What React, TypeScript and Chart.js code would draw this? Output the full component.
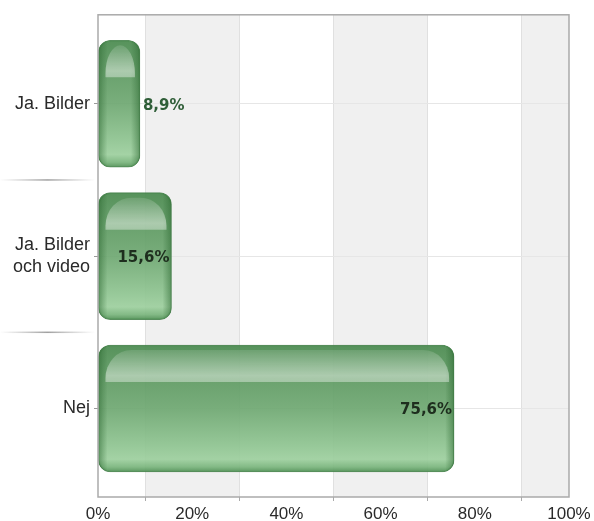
import React, { useEffect, useRef } from 'react';
import { Chart, registerables } from 'chart.js';

Chart.register(...registerables);

const categories: string[][] = [['Ja. Bilder'], ['Ja. Bilder', 'och video'], ['Nej']];
const values: number[] = [8.9, 15.6, 75.6];
const valueLabels: string[] = ['8,9%', '15,6%', '75,6%'];
const xTickValues: number[] = [0, 20, 40, 60, 80, 100];
const shadedBands: number[][] = [[10, 30], [50, 70], [90, 100]];
const gridValues: number[] = [10, 30, 50, 70, 90];

function barBox(el: any) {
  const p = el.getProps(['x', 'y', 'base', 'height'], true);
  const l = Math.min(p.x, p.base);
  const r = Math.max(p.x, p.base);
  const t = p.y - p.height / 2;
  const b = p.y + p.height / 2;
  return { l, r, t, b, cy: p.y };
}

const bandsPlugin = {
  id: 'bands',
  beforeDraw(chart: any) {
    const { ctx, chartArea: a, scales } = chart;
    if (!a) return;
    const xs = scales.x;
    ctx.save();
    ctx.fillStyle = '#f0f0f0';
    shadedBands.forEach(([s, e]) => {
      const x1 = xs.getPixelForValue(s);
      const x2 = xs.getPixelForValue(e);
      ctx.fillRect(x1, a.top, x2 - x1, a.bottom - a.top);
    });
    ctx.restore();
  },
};

const decorPlugin = {
  id: 'decor',
  afterDatasetsDraw(chart: any) {
    const { ctx, chartArea: a, scales } = chart;
    const meta = chart.getDatasetMeta(0);
    ctx.save();
    meta.data.forEach((el: any, i: number) => {
      const { l, r, t, b, cy } = barBox(el);
      const w = r - l;
      const h = b - t;
      ctx.save();
      ctx.beginPath();
      ctx.roundRect(l, t, w, h, 12);
      ctx.clip();
      const gl = ctx.createLinearGradient(l, 0, l + 9, 0);
      gl.addColorStop(0, 'rgba(45,105,50,0.55)');
      gl.addColorStop(1, 'rgba(45,105,50,0)');
      ctx.fillStyle = gl;
      ctx.fillRect(l, t, 9, h);
      const gr = ctx.createLinearGradient(r - 9, 0, r, 0);
      gr.addColorStop(0, 'rgba(45,105,50,0)');
      gr.addColorStop(1, 'rgba(45,105,50,0.55)');
      ctx.fillStyle = gr;
      ctx.fillRect(r - 9, t, 9, h);
      const hl = l + 7;
      const hr = r - 5;
      const ht = t + 5;
      const hb = t + 37;
      const rx = Math.min(26, (hr - hl) / 2);
      const ry = Math.min(28, hb - ht);
      ctx.beginPath();
      ctx.moveTo(hl, hb);
      ctx.lineTo(hl, ht + ry);
      ctx.ellipse(hl + rx, ht + ry, rx, ry, 0, Math.PI, 1.5 * Math.PI);
      ctx.lineTo(hr - rx, ht);
      ctx.ellipse(hr - rx, ht + ry, rx, ry, 0, 1.5 * Math.PI, 2 * Math.PI);
      ctx.lineTo(hr, hb);
      ctx.closePath();
      const gh = ctx.createLinearGradient(0, ht, 0, hb);
      gh.addColorStop(0, 'rgba(255,255,255,0.12)');
      gh.addColorStop(0.8, 'rgba(255,255,255,0.45)');
      gh.addColorStop(1, 'rgba(255,255,255,0.38)');
      ctx.fillStyle = gh;
      ctx.fill();
      ctx.restore();

      ctx.font = 'bold 15px "DejaVu Sans"';
      ctx.textBaseline = 'middle';
      const tw = ctx.measureText(valueLabels[i]).width;
      if (tw + 6 < w) {
        ctx.textAlign = 'right';
        ctx.fillStyle = '#1e2e1e';
        ctx.fillText(valueLabels[i], r - 2, cy + 2);
      } else {
        ctx.textAlign = 'left';
        ctx.fillStyle = '#2f5e38';
        ctx.fillText(valueLabels[i], r + 3, cy + 2);
      }
    });

    ctx.strokeStyle = '#aaaaaa';
    ctx.lineWidth = 1.5;
    ctx.strokeRect(a.left, a.top, a.right - a.left, a.bottom - a.top);

    const ys = scales.y;
    for (let i = 0; i < categories.length - 1; i++) {
      const ym = (ys.getPixelForValue(i) + ys.getPixelForValue(i + 1)) / 2;
      const g = ctx.createLinearGradient(0, 0, a.left - 3, 0);
      g.addColorStop(0, 'rgba(140,140,140,0)');
      g.addColorStop(0.5, 'rgba(120,120,120,0.7)');
      g.addColorStop(1, 'rgba(140,140,140,0)');
      ctx.fillStyle = g;
      ctx.fillRect(0, ym - 0.75, a.left - 3, 1.5);
    }
    ctx.restore();
  },
};

function barFill(c: any) {
  const chart = c.chart;
  const ys = chart.scales && chart.scales.y;
  if (!chart.chartArea || !ys) return '#6fa872';
  const cy = ys.getPixelForValue(c.dataIndex);
  const t = cy - 63.5;
  const b = cy + 63.5;
  const g = chart.ctx.createLinearGradient(0, t, 0, b);
  g.addColorStop(0, 'rgba(74,138,79,0.93)');
  g.addColorStop(0.25, 'rgba(94,154,98,0.93)');
  g.addColorStop(0.5, 'rgba(111,168,114,0.93)');
  g.addColorStop(0.8, 'rgba(144,197,146,0.93)');
  g.addColorStop(0.9, 'rgba(157,207,158,0.93)');
  g.addColorStop(0.96, 'rgba(122,181,125,0.93)');
  g.addColorStop(1, 'rgba(79,143,84,0.93)');
  return g;
}

export default function App() {
  const ref = useRef<HTMLCanvasElement | null>(null);
  useEffect(() => {
    document.body.style.margin = '0';
    if (!ref.current) return;
    const chart = new Chart(ref.current, {
      type: 'bar',
      data: {
        datasets: [
          {
            data: values.map((v, i) => ({ x: v, y: i })),
            backgroundColor: barFill as any,
            borderColor: 'rgba(70,130,75,0.9)',
            borderWidth: 1,
            borderRadius: 12,
            borderSkipped: false,
            barThickness: 127,
          },
        ],
      },
      options: {
        indexAxis: 'y',
        animation: false,
        responsive: true,
        maintainAspectRatio: false,
        layout: { padding: { top: 12, right: 25, left: 0, bottom: 0 } },
        plugins: { legend: { display: false }, tooltip: { enabled: false } },
        scales: {
          x: {
            type: 'linear',
            position: 'bottom',
            min: 0,
            max: 100,
            offset: false,
            afterBuildTicks: (s: any) => {
              const all = xTickValues.concat(gridValues).sort((p, q) => p - q);
              s.ticks = all.map((v) => ({ value: v }));
            },
            afterFit: (s: any) => {
              s.height = 24;
            },
            ticks: {
              autoSkip: false,
              maxRotation: 0,
              padding: 3,
              color: '#2a2a2a',
              font: { family: '"Liberation Sans", Arial, sans-serif', size: 17 },
              callback: (v: any) => (xTickValues.includes(Number(v)) ? v + '%' : ''),
            },
            grid: {
              offset: false,
              color: (c: any) => (c.tick && gridValues.includes(c.tick.value) ? '#e0e0e0' : 'rgba(0,0,0,0)'),
              tickColor: (c: any) => (c.tick && gridValues.includes(c.tick.value) ? '#aaaaaa' : 'rgba(0,0,0,0)'),
              tickLength: 4,
            },
            border: { display: false },
          },
          y: {
            type: 'linear',
            reverse: true,
            offset: false,
            min: -0.584,
            max: 2.581,
            afterBuildTicks: (s: any) => {
              s.ticks = categories.map((_, i) => ({ value: i }));
            },
            afterFit: (s: any) => {
              s.width = 98;
            },
            ticks: {
              autoSkip: false,
              padding: 4,
              color: '#2a2a2a',
              font: { family: '"Liberation Sans", Arial, sans-serif', size: 18 },
              callback: (v: any) => categories[Number(v)] as any,
            },
            grid: {
              offset: false,
              color: '#e6e6e6',
              tickColor: '#999999',
              tickLength: 4,
            },
            border: { display: false },
          },
        },
      },
      plugins: [bandsPlugin, decorPlugin],
    });
    return () => chart.destroy();
  }, []);
  return (
    <div style={{ width: 594, height: 521, position: 'relative' }}>
      <canvas ref={ref} />
    </div>
  );
}
